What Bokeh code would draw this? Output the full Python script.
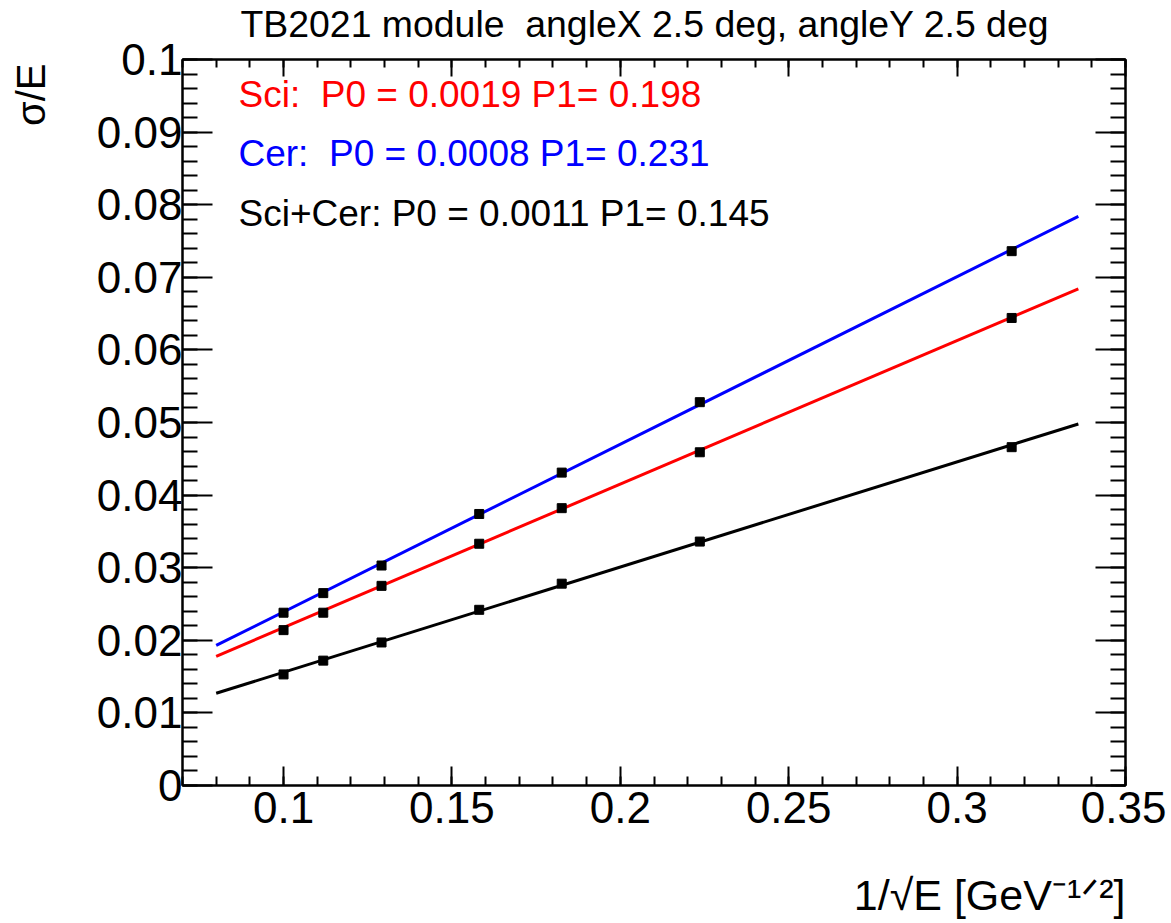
from bokeh.plotting import figure
from bokeh.models import Range1d, LinearAxis, FixedTicker, Title, Label
from bokeh.embed import file_html
from bokeh.resources import INLINE

# ---- data ----
x_vals = [0.1, 0.1118, 0.1291, 0.1581, 0.1826, 0.2236, 0.3162]   # 1/sqrt(E), E = 100..10 GeV
sci_vals = [0.0214, 0.0238, 0.0275, 0.0333, 0.0382, 0.0459, 0.0644]
cer_vals = [0.0238, 0.0265, 0.0303, 0.0374, 0.0431, 0.0528, 0.0736]
sum_vals = [0.0153, 0.0172, 0.0197, 0.0242, 0.0278, 0.0336, 0.0466]

fit_x = [0.08, 0.336]
sci_fit = [0.0178, 0.0684]
cer_fit = [0.0193, 0.0784]
sum_fit = [0.0127, 0.0498]

legend_texts = ["Sci:\u00a0 P0 = 0.0019 P1= 0.198",
                "Cer:\u00a0 P0 = 0.0008 P1= 0.231",
                "Sci+Cer: P0 = 0.0011 P1= 0.145"]
legend_colors = ["#ff0000", "#0000ff", "#000000"]

title_text = "TB2021 module\u00a0 angleX 2.5 deg, angleY 2.5 deg"
y_title = "σ/E"
x_title = "1/√E [GeV⁻¹ᐟ²]"

x_ticks = [0.1, 0.15, 0.2, 0.25, 0.3, 0.35]
x_tick_labels = ["0.1", "0.15", "0.2", "0.25", "0.3", "0.35"]
y_ticks = [0, 0.01, 0.02, 0.03, 0.04, 0.05, 0.06, 0.07, 0.08, 0.09, 0.1]
y_tick_labels = ["0", "0.01", "0.02", "0.03", "0.04", "0.05", "0.06", "0.07", "0.08", "0.09", "0.1"]

FONT = "Liberation Sans"

# frame in canvas pixels
FL, FR, FT, FB = 182, 1125, 58, 785
X0, X1, Y0, Y1 = 0.07, 0.35, 0.0, 0.1
W, H = 1166, 922

def X(px):
    return X0 + (px - FL) * (X1 - X0) / (FR - FL)

def Y(py):
    return Y0 + (FB - py) * (Y1 - Y0) / (FB - FT)

p = figure(width=W, height=H, output_backend="svg", toolbar_location=None,
           x_range=Range1d(X0, X1), y_range=Range1d(Y0, Y1),
           min_border_left=FL, min_border_right=W - FR,
           min_border_top=FT, min_border_bottom=H - FB,
           title=title_text)
p.xgrid.visible = False
p.ygrid.visible = False
p.outline_line_color = "black"
p.outline_line_width = 2
p.background_fill_color = "white"
p.border_fill_color = "white"

p.title.align = "left"
p.title.offset = 58
p.title.standoff = 0
p.title.vertical_align = "bottom"
p.title.text_font = FONT
p.title.text_font_size = "37.4px"
p.title.text_font_style = "normal"
p.title.text_color = "black"

x_minor = [round(0.07 + 0.01 * i, 3) for i in range(29)]
y_minor = [round(0.002 * i, 3) for i in range(51)]

def style(ax, ticks, minor, major_len, minor_len, labels=None, font_size="44px"):
    ax.ticker = FixedTicker(ticks=ticks, minor_ticks=minor)
    ax.axis_line_width = 2
    ax.axis_line_color = "black"
    ax.major_tick_in = major_len
    ax.major_tick_out = 0
    ax.minor_tick_in = minor_len
    ax.minor_tick_out = 0
    ax.major_tick_line_width = 2
    ax.minor_tick_line_width = 2
    ax.major_tick_line_color = "black"
    ax.minor_tick_line_color = "black"
    if labels is not None:
        ax.major_label_overrides = {t: l for t, l in zip(ticks, labels)}
        ax.major_label_text_font = FONT
        ax.major_label_text_font_size = font_size
        ax.major_label_text_color = "black"
    else:
        ax.major_label_text_font_size = "0px"
        ax.major_label_text_alpha = 0

def spacer(ax, gap):
    # invisible axis label used only to reserve room between axis and side title
    ax.axis_label = "\u00a0"
    ax.axis_label_text_font_size = "1px"
    ax.axis_label_standoff = gap

xa = p.xaxis[0]
ya = p.yaxis[0]
style(xa, x_ticks, x_minor, 19, 9, x_tick_labels)
xa.major_label_standoff = 6
spacer(xa, 39)
style(ya, y_ticks, y_minor, 30, 15, y_tick_labels)
ya.major_label_standoff = 0
spacer(ya, 37)

top = LinearAxis()
style(top, x_ticks, x_minor, 17, 8)
top.major_label_standoff = 0
spacer(top, 11)
p.add_layout(top, "above")
right = LinearAxis()
style(right, y_ticks, y_minor, 30, 15)
right.major_label_standoff = 0
p.add_layout(right, "right")

# axis titles as side titles
yt = Title(text=y_title, align="right", standoff=0, offset=4, text_font=FONT,
           text_font_size="40px", text_font_style="normal", text_color="black")
p.add_layout(yt, "left")
xt = Title(text=x_title, align="right", standoff=0, text_font=FONT,
           text_font_size="43px", text_font_style="normal", text_color="black")
p.add_layout(xt, "below")

# fit lines
p.line(fit_x, sci_fit, line_color="#ff0000", line_width=3)
p.line(fit_x, cer_fit, line_color="#0000ff", line_width=3)
p.line(fit_x, sum_fit, line_color="#000000", line_width=3)

# data points
for ys in (sci_vals, cer_vals, sum_vals):
    p.scatter(x_vals, ys, marker="square", size=9, color="black")

# legend texts
for i, (t, c) in enumerate(zip(legend_texts, legend_colors)):
    p.add_layout(Label(x=X(238), y=Y(93 + 59.5 * i), text=t, text_font=FONT,
                       text_font_size="37px", text_color=c,
                       text_align="left", text_baseline="alphabetic"))

open("out.html", "w").write(file_html(p, INLINE))
